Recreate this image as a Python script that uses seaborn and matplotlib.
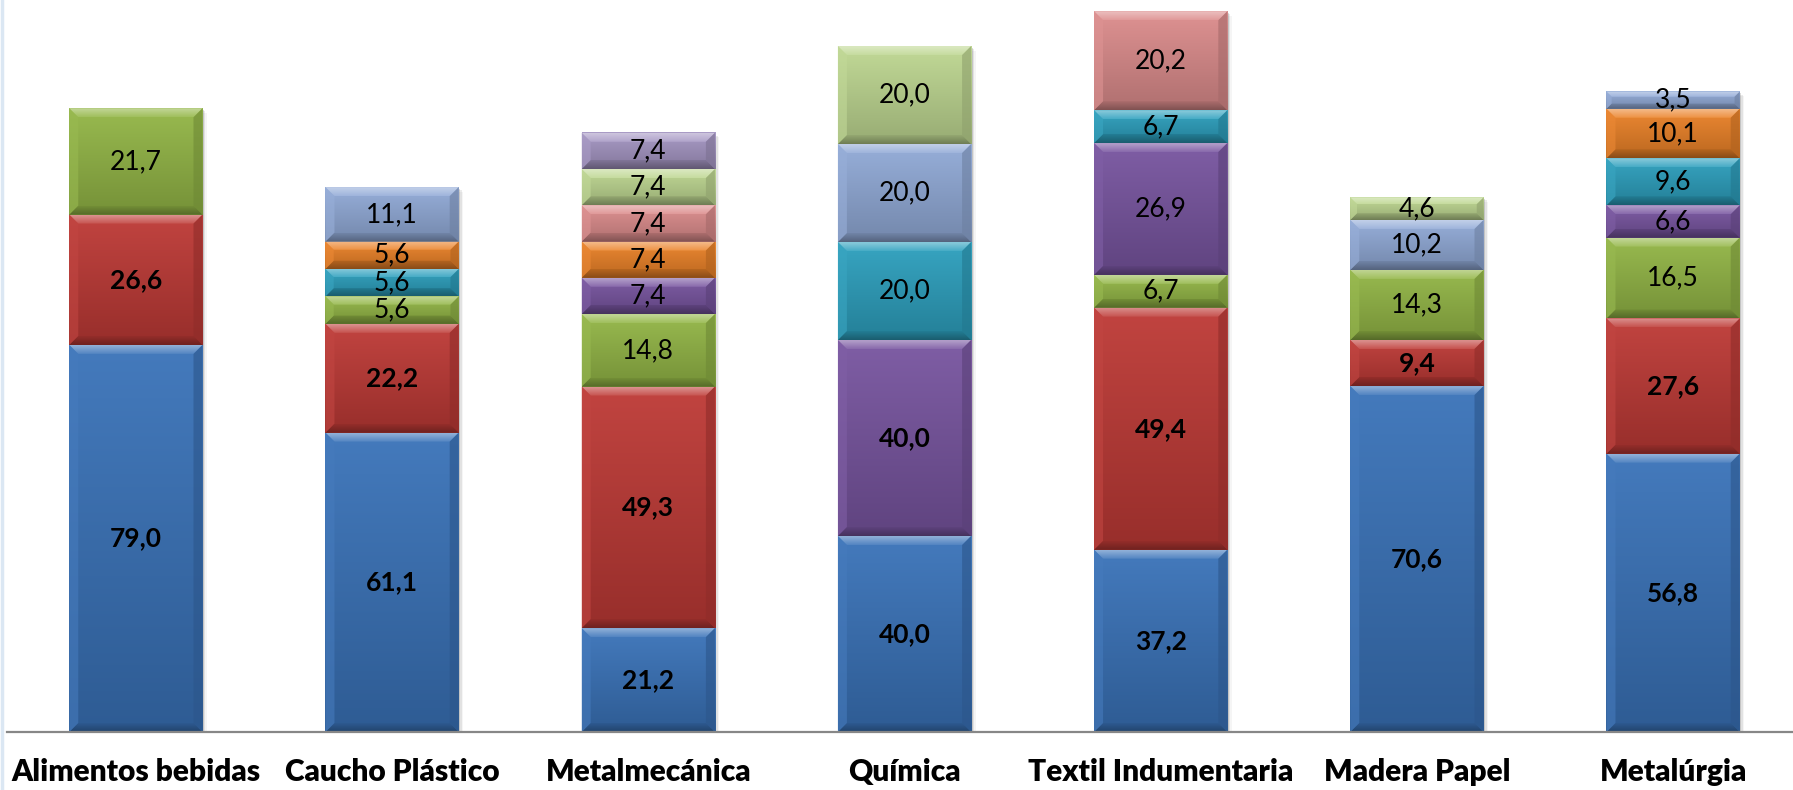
import numpy as np
import pandas as pd
import matplotlib
matplotlib.use("Agg")
import matplotlib.pyplot as plt
import seaborn as sns
from matplotlib.patches import Polygon, Rectangle
from matplotlib.colors import to_rgb
from matplotlib.lines import Line2D

# --- datos ---
categorias = ["Alimentos bebidas", "Caucho Plástico", "Metalmecánica", "Química",
              "Textil Indumentaria", "Madera Papel", "Metalúrgia"]
azul        = [79.0, 61.1, 21.2, 40.0, 37.2, 70.6, 56.8]
rojo        = [26.6, 22.2, 49.3, 0.0, 49.4, 9.4, 27.6]
verde       = [21.7, 5.6, 14.8, 0.0, 6.7, 14.3, 16.5]
violeta     = [0.0, 0.0, 7.4, 40.0, 26.9, 0.0, 6.6]
celeste     = [0.0, 5.6, 0.0, 20.0, 6.7, 0.0, 9.6]
naranja     = [0.0, 5.6, 7.4, 0.0, 0.0, 0.0, 10.1]
azul_claro  = [0.0, 11.1, 0.0, 20.0, 0.0, 10.2, 3.5]
rosa        = [0.0, 0.0, 7.4, 0.0, 20.2, 0.0, 0.0]
verde_claro = [0.0, 0.0, 7.4, 20.0, 0.0, 4.6, 0.0]
lila        = [0.0, 0.0, 7.4, 0.0, 0.0, 0.0, 0.0]

series = ["azul", "rojo", "verde", "violeta", "celeste", "naranja",
          "azul_claro", "rosa", "verde_claro", "lila"]
valores = [azul, rojo, verde, violeta, celeste, naranja,
           azul_claro, rosa, verde_claro, lila]
colores = ["#3A73B9", "#BE3A36", "#93B646", "#7855A0", "#2DA0BE", "#EB8228",
           "#91AAD7", "#DC8C8C", "#BED791", "#A596C3"]
negrita_series = ["azul", "rojo"]
negrita_extra = [("Química", "violeta")]

filas = []
for s, vals in zip(series, valores):
    for c, v in zip(categorias, vals):
        filas.append((c, s, v))
df = pd.DataFrame(filas, columns=["categoria", "serie", "valor"])
df["serie"] = pd.Categorical(df["serie"], series, ordered=True)
df = df.sort_values(["categoria", "serie"])
df["acum"] = df.groupby("categoria", observed=True)["valor"].cumsum()

W, H, DPI = 1793, 790, 100
fig = plt.figure(figsize=(W / DPI, H / DPI), dpi=DPI)
ax_l, ax_b = 7 / W, 58 / H
ax_w, ax_h = (W - 7) / W, 732 / H
ax = fig.add_axes([ax_l, ax_b, ax_w, ax_h])

# barras apiladas: se dibuja el acumulado de arriba hacia abajo
capas = {}
for s, col in reversed(list(zip(series, colores))):
    n0 = len(ax.patches)
    sns.barplot(data=df[df["serie"] == s], x="categoria", y="acum", order=categorias,
                color=col, saturation=1, width=0.52, errorbar=None, ax=ax,
                linewidth=0, zorder=2)
    capas[s] = ax.patches[n0:]

xlim = (-0.503, 6.468)
ylim = (0, 149.4)
ax.set_xlim(*xlim)
ax.set_ylim(*ylim)
px_x = ax_w * W / (xlim[1] - xlim[0])
px_y = ax_h * H / (ylim[1] - ylim[0])


def mezcla(c, otro, t):
    c = np.array(to_rgb(c))
    return tuple(c * (1 - t) + np.array(otro) * t)


def grad_img(c_top, c_bot, n=64):
    t = np.linspace(0, 1, n)[:, None]
    a, b = np.array(c_top), np.array(c_bot)
    return (a * (1 - t) + b * t)[:, None, :]


# relieve de cada segmento
for s, col in zip(series, colores):
    sub = df[df["serie"] == s].set_index("categoria")
    for i, p in enumerate(capas[s]):
        cat = categorias[i]
        v = sub.loc[cat, "valor"]
        if v <= 0:
            continue
        x0, w = p.get_x(), p.get_width()
        x1 = x0 + w
        y1 = p.get_height()
        y0 = y1 - v
        # cara con degradado vertical
        ax.imshow(grad_img(mezcla(col, (1, 1, 1), 0.05), mezcla(col, (0, 0, 0), 0.2)),
                  extent=(x0, x1, y0, y1), aspect="auto", interpolation="bilinear",
                  zorder=3)
        b = min(9, v * px_y * 0.3)
        bx, by = b / px_x, b / px_y
        sup = Polygon([(x0, y1), (x1, y1), (x1 - bx, y1 - by), (x0 + bx, y1 - by)],
                      closed=True, transform=ax.transData, visible=False)
        ax.add_patch(sup)
        im = ax.imshow(grad_img(mezcla(col, (1, 1, 1), 0.45), mezcla(col, (1, 1, 1), 0.12)),
                       extent=(x0, x1, y1 - by, y1), aspect="auto",
                       interpolation="bilinear", zorder=4)
        im.set_clip_path(sup)
        inf = Polygon([(x0, y0), (x1, y0), (x1 - bx, y0 + by), (x0 + bx, y0 + by)],
                      closed=True, transform=ax.transData, visible=False)
        ax.add_patch(inf)
        im = ax.imshow(grad_img(mezcla(col, (0, 0, 0), 0.22), mezcla(col, (0, 0, 0), 0.42)),
                       extent=(x0, x1, y0, y0 + by), aspect="auto",
                       interpolation="bilinear", zorder=4)
        im.set_clip_path(inf)
        ax.add_patch(Polygon([(x0, y0), (x0, y1), (x0 + bx, y1 - by), (x0 + bx, y0 + by)],
                             closed=True, color=mezcla(col, (1, 1, 1), 0.06),
                             alpha=0.6, lw=0, zorder=4))
        ax.add_patch(Polygon([(x1, y0), (x1, y1), (x1 - bx, y1 - by), (x1 - bx, y0 + by)],
                             closed=True, color=mezcla(col, (0, 0, 0), 0.25),
                             alpha=0.6, lw=0, zorder=4))
        txt = f"{v:.1f}".replace(".", ",")
        bold = s in negrita_series or (cat, s) in negrita_extra
        ax.text(x0 + w / 2, y0 + v / 2, txt, ha="center", va="center", fontsize=19,
                family="Lato", fontweight="bold" if bold else "normal",
                color="black", zorder=6)

# sombra suave a la derecha de cada barra
for p in capas[series[-1]]:
    x0, w, tot = p.get_x(), p.get_width(), p.get_height()
    for k, a in enumerate([0.18, 0.10, 0.05]):
        d = (k + 1) * 1.5
        ax.add_patch(Rectangle((x0 + d / px_x, -d / px_y), w, tot, color="#404040",
                               alpha=a, lw=0, zorder=1))

ax.set_xlabel("")
ax.set_ylabel("")
ax.set_yticks([])
for sp in ["left", "right", "top"]:
    ax.spines[sp].set_visible(False)
ax.spines["bottom"].set_color("#878787")
ax.spines["bottom"].set_linewidth(1.6)
ax.spines["bottom"].set_zorder(7)
ax.tick_params(axis="x", length=0, pad=19)
for lab in ax.get_xticklabels():
    lab.set_family("Lato")
    lab.set_fontweight("heavy")
    lab.set_fontsize(21.5)
ax.set_facecolor("white")
fig.add_artist(Line2D([1.5 / W, 1.5 / W], [0, 1], color="#dbe7f3", lw=2.5))

fig.savefig("out.png", dpi=DPI, facecolor="white")
